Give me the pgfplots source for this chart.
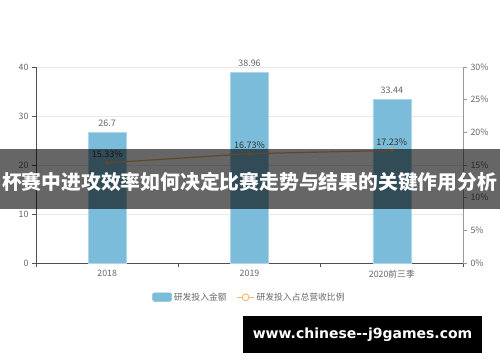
\documentclass[border=0pt]{standalone}
\usepackage{pgfplots}
\pgfplotsset{compat=1.18}
\usepackage{fontspec}
\setmainfont{Noto Sans CJK SC}
\newfontfamily\urlfont{DejaVu Sans}
\definecolor{barblue}{RGB}{124,188,219}
\definecolor{lineorange}{RGB}{250,178,108}
\definecolor{txtgray}{RGB}{102,102,102}
\definecolor{axgray}{RGB}{80,80,80}
\definecolor{gridgray}{RGB}{232,232,232}
\begin{document}
\begin{tikzpicture}
\useasboundingbox (0pt,0pt) rectangle (500pt,362pt);
\fill[white] (0pt,0pt) rectangle (500pt,362pt);
\begin{axis}[
  at={(36pt,99pt)}, anchor=south west,
  scale only axis, width=427pt, height=196pt,
  xmin=-0.5, xmax=2.5, ymin=0, ymax=40,
  xtick={0,1,2}, xticklabels={2018,2019,2020前三季},
  minor xtick={-0.5,0.5,1.5,2.5},
  major x tick style={draw=none},
  minor tick length=4pt,
  ytick={0,10,20,30,40},
  major tick length=4pt,
  tick align=outside,
  axis x line*=bottom, axis y line*=left,
  axis line style={axgray, line width=0.8pt},
  every tick/.style={axgray, line width=0.6pt},
  ymajorgrids, grid style={gridgray, line width=0.6pt},
  tick label style={font=\fontsize{8.8}{10}\selectfont, text=txtgray},
  /pgf/number format/assume math mode=true,
  ybar, bar width=38pt,
  nodes near coords, point meta=explicit symbolic,
  every node near coord/.append style={font=\fontsize{9}{10}\selectfont, text=txtgray, yshift=2pt},
  clip=false,
]
\addplot[fill=barblue, draw=barblue!60!white, line width=0.6pt] coordinates {(0,26.7)[26.7] (1,38.96)[38.96] (2,33.44)[33.44]};
\end{axis}
\begin{axis}[
  at={(36pt,99pt)}, anchor=south west,
  scale only axis, width=427pt, height=196pt,
  xmin=-0.5, xmax=2.5, ymin=0, ymax=30,
  xtick=\empty,
  ytick={0,5,10,15,20,25,30},
  yticklabel={\pgfmathprintnumber{\tick}\%},
  axis x line=none, axis y line*=right,
  axis line style={gray!80, line width=0.8pt},
  major tick length=4pt, tick align=outside,
  every tick/.style={gray!80, line width=0.6pt},
  tick label style={font=\fontsize{8.8}{10}\selectfont, text=txtgray},
  /pgf/number format/assume math mode=true,
  clip=false,
  legend columns=2,
  legend style={at={(0.5,-0.175)}, anchor=center, draw=none, fill=none,
    font=\fontsize{8.8}{10}\selectfont, text=txtgray,
    /tikz/every even column/.append style={column sep=8pt}},
]
\addlegendimage{legend image code/.code={\fill[barblue, rounded corners=1.5pt] (0pt,-4pt) rectangle (19pt,4.5pt);}}
\addlegendentry{研发投入金额}
\addplot[lineorange, line width=1.2pt, mark=*, mark size=1.6pt,
  mark options={fill=lineorange},
  nodes near coords, point meta=explicit symbolic,
  every node near coord/.append style={font=\fontsize{9}{10}\selectfont, text=txtgray!50!black, yshift=1pt},
  legend image code/.code={\draw[lineorange, line width=0.9pt] (0pt,0pt)--(17pt,0pt); \draw[lineorange, fill=white, line width=0.9pt] (8.5pt,0pt) circle (3.4pt);}]
  coordinates {(0,15.33)[15.33\%] (1,16.73)[16.73\%] (2,17.23)[17.23\%]};
\addlegendentry{研发投入占总营收比例}
\end{axis}
% banner overlay
\fill[black, opacity=0.6] (0pt,153pt) rectangle (500pt,213pt);
\node[text=white, font=\fontsize{19.8}{22}\selectfont\bfseries, anchor=center, inner sep=0pt] at (249.5pt,180pt) {杯赛中进攻效率如何决定比赛走势与结果的关键作用分析};
% url box
\fill[black] (243pt,9pt) rectangle (482pt,46pt);
\node[text=white, font=\urlfont\fontsize{14}{16}\selectfont\bfseries, anchor=center] at (362.5pt,27.5pt) {www.chinese--j9games.com};
\end{tikzpicture}
\end{document}
